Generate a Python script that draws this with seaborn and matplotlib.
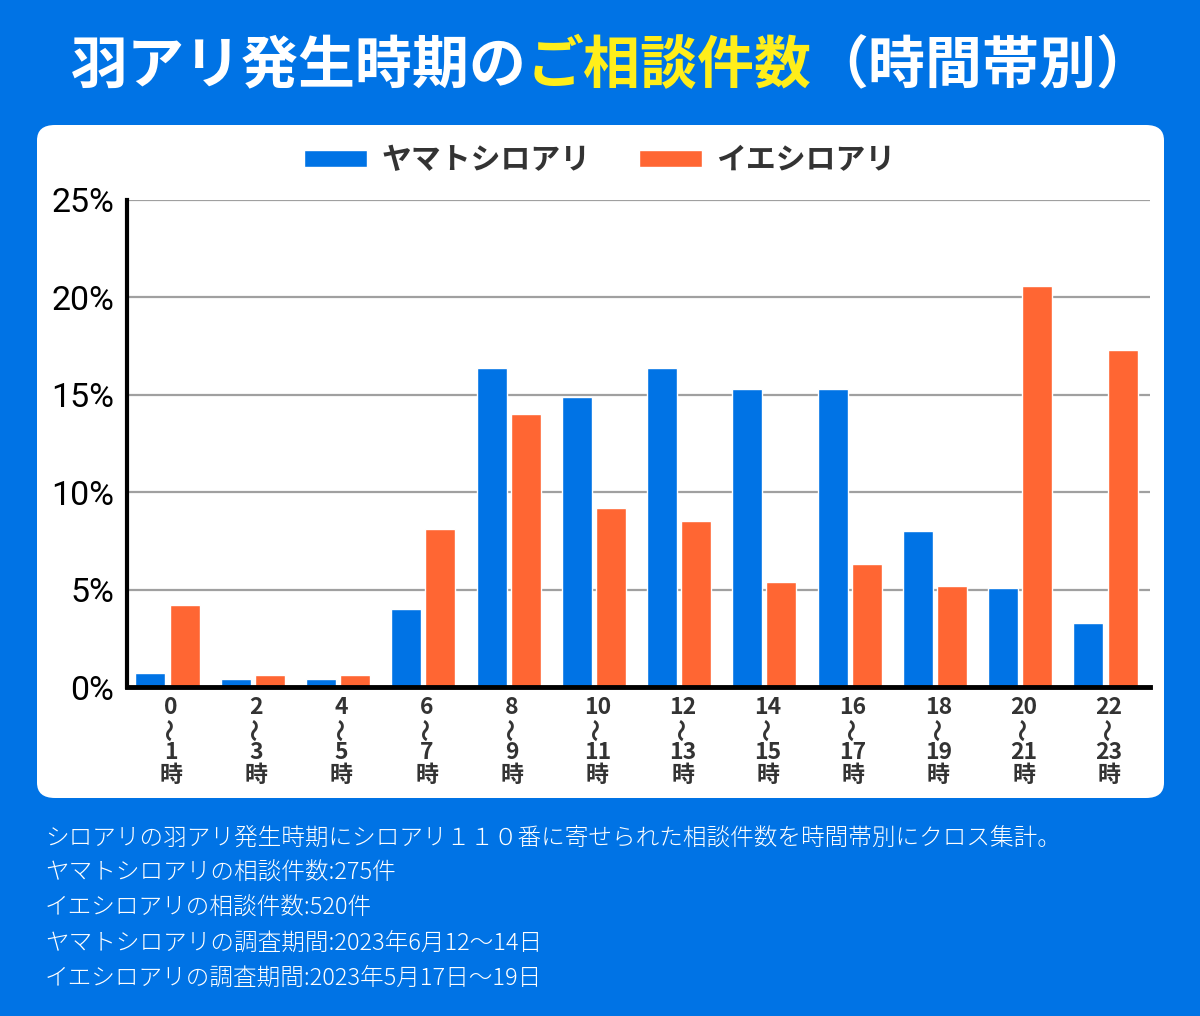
import matplotlib
matplotlib.use("Agg")
import matplotlib.pyplot as plt
from matplotlib.patches import FancyBboxPatch, Patch
import seaborn as sns
import pandas as pd
import numpy as np

# ---- data ----
time_starts = ["0", "2", "4", "6", "8", "10", "12", "14", "16", "18", "20", "22"]
time_ends = ["1", "3", "5", "7", "9", "11", "13", "15", "17", "19", "21", "23"]
categories = [f"{s}〜{e}時" for s, e in zip(time_starts, time_ends)]
yamato = [0.7, 0.4, 0.4, 4.0, 16.4, 14.9, 16.4, 15.3, 15.3, 8.0, 5.1, 3.3]
ie = [4.2, 0.6, 0.6, 8.1, 14.0, 9.2, 8.5, 5.4, 6.3, 5.2, 20.6, 17.3]
series_names = ["ヤマトシロアリ", "イエシロアリ"]
y_ticks = [0, 5, 10, 15, 20, 25]
y_tick_labels = [f"{t}%" for t in y_ticks]
title_white1 = "羽アリ発生時期の"
title_yellow = "ご相談件数"
title_white2 = "（時間帯別）"
notes = [
    "シロアリの羽アリ発生時期にシロアリ１１０番に寄せられた相談件数を時間帯別にクロス集計。",
    "ヤマトシロアリの相談件数:275件",
    "イエシロアリの相談件数:520件",
    "ヤマトシロアリの調査期間:2023年6月12〜14日",
    "イエシロアリの調査期間:2023年5月17日〜19日",
]

df = pd.DataFrame({
    "cat": categories * 2,
    "val": yamato + ie,
    "series": [series_names[0]] * len(categories) + [series_names[1]] * len(categories),
})

BG = "#0073E5"
BLUE = "#0073E5"
ORANGE = "#FF6633"
DARK = "#333333"
JP = ["Noto Sans CJK JP", "DejaVu Sans"]

sns.set_theme(style="white")
plt.rcParams["font.family"] = JP

fig = plt.figure(figsize=(12, 10.16), dpi=100)
fig.patch.set_facecolor(BG)

# white rounded panel
W, H = 1200, 1016
px, py, pw, ph = 37, 125, 1127, 673
panel = FancyBboxPatch((px / W, 1 - (py + ph) / H), pw / W, ph / H,
                       boxstyle="round,pad=0,rounding_size=0.015",
                       transform=fig.transFigure, facecolor="white",
                       edgecolor="none", zorder=-10)
fig.patches.append(panel)

ax = fig.add_axes([127 / W, 1 - 687 / H, (1150 - 127) / W, (687 - 200) / H])
ax.set_zorder(2)
ax.set_facecolor("none")

sns.barplot(data=df, x="cat", y="val", hue="series", order=categories,
            hue_order=series_names, palette=[BLUE, ORANGE], width=0.8, gap=0.12,
            saturation=1, ax=ax, legend=False, zorder=3)

ax.set_xlim(-0.475, len(categories) - 0.478)
ax.set_ylim(0, 25)
ax.set_yticks(y_ticks)
ax.set_yticklabels(y_tick_labels, fontsize=24.5, family=["Roboto", "DejaVu Sans"], color="black")
ax.tick_params(axis="y", length=0, pad=9)
ax.yaxis.grid(True, color="#A0A0A0", linewidth=1.6, zorder=0)
ax.set_axisbelow(True)
for s in ["top", "right"]:
    ax.spines[s].set_visible(False)
ax.spines["left"].set_linewidth(3)
ax.spines["left"].set_color("black")
ax.spines["bottom"].set_linewidth(3.5)
ax.spines["bottom"].set_color("black")
ax.spines["left"].set_zorder(5)
ax.spines["bottom"].set_zorder(5)
ax.set_xlabel("")
ax.set_ylabel("")
ax.set_xticks(range(len(categories)))
ax.set_xticklabels([])
ax.tick_params(axis="x", length=0)

# x tick labels: start / rotated wave / end / 時
for i, (s, e) in enumerate(zip(time_starts, time_ends)):
    kw = dict(xycoords=("data", "axes fraction"), textcoords="offset points",
              ha="center", va="center", fontsize=16.5, fontweight="bold", color=DARK)
    ax.annotate(s, (i + 0.04, 0), xytext=(0, -15), **kw)
    ax.annotate("〜", (i + 0.04, 0), xytext=(0, -31), rotation=90, **kw)
    ax.annotate(e, (i + 0.04, 0), xytext=(0, -47), **kw)
    ax.annotate("時", (i + 0.04, 0), xytext=(0, -64), **kw)

# legend
handles = [Patch(facecolor=BLUE, label=series_names[0]),
           Patch(facecolor=ORANGE, label=series_names[1])]
leg = fig.legend(handles=handles, loc="center", bbox_to_anchor=(0.5, 1 - 160 / H),
                 ncol=2, frameon=False, handlelength=2.1, handleheight=0.5,
                 handletextpad=0.5, columnspacing=1.6,
                 prop={"family": JP, "weight": "bold", "size": 21.5})
for t in leg.get_texts():
    t.set_color(DARK)

# title
title_kw = dict(fontsize=41, fontweight="bold", va="center")
renderer = fig.canvas.get_renderer()
parts = [(title_white1, "white"), (title_yellow, "#FFEE1A"), (title_white2, "white")]
texts = []
for txt, col in parts:
    tt = fig.text(0, 1 - 66 / H, txt, color=col, ha="left", **title_kw)
    texts.append(tt)
widths = [tt.get_window_extent(renderer=renderer).width for tt in texts]
total = sum(widths)
x0 = (W - total) / 2 + 12
for tt, w in zip(texts, widths):
    tt.set_x(x0 / W)
    x0 += w

# notes
for k, line in enumerate(notes):
    fig.text(45 / W, 1 - (838 + 35 * k) / H, line, color="white", fontsize=17,
             fontweight="light", ha="left", va="center")

fig.savefig("out.png", dpi=100, facecolor=BG)
